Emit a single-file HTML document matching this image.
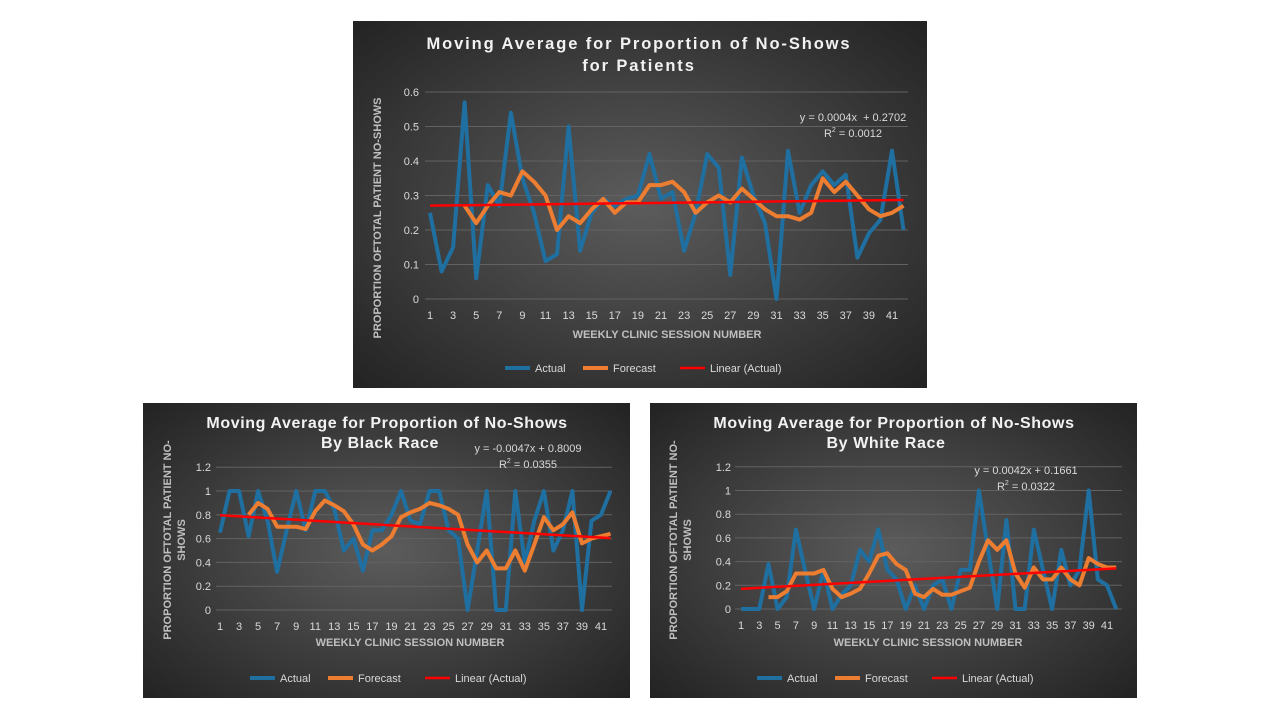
<!DOCTYPE html>
<html><head><meta charset="utf-8"><style>
body{margin:0;width:1280px;height:720px;background:#fff;overflow:hidden;font-family:"Liberation Sans",sans-serif}
svg{position:absolute;left:0;top:0}
</style></head><body>
<svg id="s" width="1280" height="720" xmlns="http://www.w3.org/2000/svg">
<defs>
<radialGradient id="g" cx="50%" cy="50%" r="70%"><stop offset="0" stop-color="#5c5c5c"/><stop offset="1" stop-color="#232323"/></radialGradient>
</defs>
</svg>
<script>
const s=document.getElementById('s');let h='';
function T(x,y,t,o){o=o||{};h+=`<text x="${x}" y="${y}" fill="${o.c||'#d9d9d9'}" font-size="${o.s||11}" font-weight="${o.w||'normal'}" text-anchor="${o.a||'middle'}" ${o.r?`transform="rotate(-90 ${x} ${y})"`:''} font-family="Liberation Sans, sans-serif" ${o.ls?`letter-spacing="${o.ls}"`:''}>${t}</text>`;}
function chart(c){
 h+=`<rect x="${c.x0}" y="${c.y0}" width="${c.w}" height="${c.h}" fill="url(#g)"/>`;
 const X=i=>c.px1+(i-1)*c.dx, Y=v=>c.py0-v*c.sy;
 for(let v=0;v<=c.ymax+1e-9;v+=c.step){const y=Y(v);h+=`<line x1="${c.gx0}" x2="${c.gx1}" y1="${y}" y2="${y}" stroke="#626262" stroke-width="1"/>`;T(c.ylx,y+4,(+v.toFixed(1)).toString(),{a:'end'});}
 for(let i=1;i<=41;i+=2)T(X(i),c.xly,i);
 c.titles.forEach((t,k)=>T(c.tx[k],c.ty[k],t,{s:c.ts||16,w:'bold',c:'#f2f2f2',ls:c.tls||0.6}));
 T(c.tcx,c.xty,'WEEKLY CLINIC SESSION NUMBER',{w:'bold',c:'#bfbfbf'});
 c.yt.forEach((t,k)=>T(c.ytx[k],c.yty,t,{w:'bold',c:'#bfbfbf',r:1}));
 const p=(arr,st)=>arr.map((v,k)=>`${X(k+st).toFixed(1)},${Y(v).toFixed(1)}`).join(' ');
 h+=`<polyline points="${p(c.a,1)}" fill="none" stroke="#1f6fa0" stroke-width="4" stroke-linejoin="round"/>`;
 h+=`<polyline points="${p(c.f,4)}" fill="none" stroke="#ed7d31" stroke-width="4" stroke-linejoin="round"/>`;
 h+=`<line x1="${X(1)}" y1="${Y(c.m*1+c.b)}" x2="${X(42)}" y2="${Y(c.m*42+c.b)}" stroke="#ff0000" stroke-width="2.5"/>`;
 T(c.ex,c.ey,c.eq,{c:'#d9d9d9'});T(c.ex,c.ey+16,'R<tspan font-size="7" dy="-5">2</tspan><tspan dy="5"> = '+c.r2+'</tspan>',{c:'#d9d9d9'});
 const L=c.lx,ly=c.ly;
 [['Actual','#1f6fa0',0],['Forecast','#ed7d31',78],['Linear (Actual)','#ff0000',175]].forEach(([t,col,o])=>{h+=`<line x1="${L+o}" x2="${L+o+25}" y1="${ly}" y2="${ly}" stroke="${col}" stroke-width="${col=='#ff0000'?2.5:4}"/>`;T(L+o+30,ly+4,t,{a:'start'});});
}
chart({x0:353,y0:21,w:574,h:367,px1:430,dx:11.55,py0:299,sy:345,ymax:0.6,step:0.1,gx0:425,gx1:908,ylx:419,xly:319,ts:16.5,tls:1.9,
titles:['Moving Average for Proportion of No-Shows','for Patients'],tx:[639,639],ty:[49,71],tcx:667,xty:338,yt:['PROPORTION OFTOTAL PATIENT NO-SHOWS'],ytx:[381],yty:218,
a:[.25,.08,.15,.57,.06,.33,.27,.54,.35,.25,.11,.13,.50,.14,.25,.29,.27,.29,.30,.42,.29,.31,.14,.25,.42,.38,.07,.41,.30,.22,0,.43,.25,.33,.37,.33,.36,.12,.19,.23,.43,.20],
f:[.27,.22,.27,.31,.30,.37,.34,.30,.20,.24,.22,.26,.29,.25,.28,.28,.33,.33,.34,.31,.25,.28,.30,.28,.32,.29,.26,.24,.24,.23,.25,.35,.31,.34,.30,.26,.24,.25,.27],
m:.0004,b:.2702,eq:'y = 0.0004x &#160;+ 0.2702',r2:'0.0012',ex:853,ey:121,lx:505,ly:368});
chart({x0:143,y0:403,w:487,h:295,px1:220,dx:9.525,py0:610,sy:119,ymax:1.2,step:0.2,gx0:216,gx1:612,ylx:211,xly:630,
titles:['Moving Average for Proportion  of No-Shows','By Black Race'],tx:[387,380],ty:[428,448],tcx:410,xty:646,yt:['PROPORTION OFTOTAL PATIENT NO-','SHOWS'],ytx:[171,185],yty:540,
a:[.65,1,1,.62,1,.75,.32,.67,1,.67,1,1,.85,.5,.6,.33,.67,.67,.8,1,.75,.72,1,1,.67,.6,0,.5,1,0,0,1,.4,.75,1,.5,.67,1,0,.75,.8,1],
f:[.8,.9,.85,.7,.7,.7,.68,.83,.92,.88,.83,.72,.55,.5,.55,.62,.78,.82,.85,.9,.88,.85,.8,.55,.4,.5,.35,.35,.5,.33,.55,.78,.67,.72,.82,.56,.6,.62,.64],
m:-.0047,b:.8009,eq:'y = -0.0047x + 0.8009',r2:'0.0355',ex:528,ey:452,lx:250,ly:678});
chart({x0:650,y0:403,w:487,h:295,px1:741,dx:9.15,py0:609,sy:118.5,ymax:1.2,step:0.2,gx0:735,gx1:1122,ylx:731,xly:629,
titles:['Moving Average for Proportion  of No-Shows','By White Race'],tx:[894,886],ty:[428,448],tcx:928,xty:646,yt:['PROPORTION OFTOTAL PATIENT NO-','SHOWS'],ytx:[677,691],yty:540,
a:[0,0,0,.38,0,.1,.67,.33,0,.33,0,.12,.2,.5,.4,.67,.33,.25,0,.2,0,.2,.25,0,.33,.33,1,.5,0,.75,0,0,.67,.33,0,.5,.2,.33,1,.25,.2,0],
f:[.1,.1,.15,.3,.3,.3,.33,.17,.1,.13,.17,.3,.45,.47,.38,.33,.13,.1,.17,.12,.12,.15,.18,.4,.58,.5,.58,.3,.18,.35,.25,.25,.35,.25,.2,.43,.38,.35,.35],
m:.0042,b:.1661,eq:'y = 0.0042x + 0.1661',r2:'0.0322',ex:1026,ey:474,lx:757,ly:678});
s.innerHTML+=h;
</script>
</body></html>
